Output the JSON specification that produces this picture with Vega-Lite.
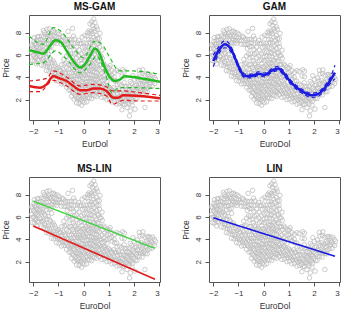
{
  "$schema": "https://vega.github.io/schema/vega-lite/v6.json",
  "padding": {"left": 0, "top": 1, "right": 0, "bottom": 0},
  "config": {
    "font": "Liberation Sans",
    "view": {"stroke": "#555", "strokeWidth": 1},
    "axis": {"grid": false, "domain": false, "tickColor": "#555", "tickSize": 4, "tickWidth": 1, "labelFontSize": 8, "labelColor": "#333", "labelPadding": 3, "titleFontSize": 8.5, "titleFontWeight": "normal", "titleColor": "#333", "titlePadding": 4},
    "axisY": {"labelAngle": -90},
    "title": {"fontSize": 10, "fontWeight": "bold", "color": "#111", "offset": 3}
  },
  "datasets": {
    "obs": [
      {"eur":-2.04,"price":5.5},{"eur":-2.01,"price":5.98},{"eur":-2.06,"price":6.24},{"eur":-2.02,"price":6.8},{"eur":-2.07,"price":6.91},
      {"eur":-1.96,"price":5.45},{"eur":-1.93,"price":5.83},{"eur":-1.98,"price":5.99},{"eur":-1.94,"price":6.45},{"eur":-1.99,"price":6.56},{"eur":-1.95,"price":6.99},{"eur":-1.97,"price":7.22},{"eur":-1.96,"price":7.55},
      {"eur":-1.87,"price":5.2},{"eur":-1.84,"price":5.58},{"eur":-1.89,"price":5.74},{"eur":-1.85,"price":6.2},{"eur":-1.90,"price":6.31},{"eur":-1.86,"price":6.74},{"eur":-1.88,"price":6.97},{"eur":-1.87,"price":7.3},{"eur":-1.84,"price":7.63},
      {"eur":-1.78,"price":5.55},{"eur":-1.75,"price":5.93},{"eur":-1.80,"price":6.09},{"eur":-1.76,"price":6.55},{"eur":-1.81,"price":6.66},{"eur":-1.77,"price":7.09},{"eur":-1.79,"price":7.32},{"eur":-1.78,"price":7.65},
      {"eur":-1.68,"price":5.1},{"eur":-1.65,"price":5.58},{"eur":-1.70,"price":5.84},{"eur":-1.66,"price":6.4},{"eur":-1.71,"price":6.61},{"eur":-1.67,"price":7.04},{"eur":-1.69,"price":7.37},{"eur":-1.68,"price":7.7},
      {"eur":-1.58,"price":5.05},{"eur":-1.55,"price":5.43},{"eur":-1.60,"price":5.69},{"eur":-1.56,"price":6.25},{"eur":-1.61,"price":6.46},{"eur":-1.57,"price":6.99},{"eur":-1.59,"price":7.22},{"eur":-1.58,"price":7.65},{"eur":-1.55,"price":8.03},{"eur":-1.60,"price":8.19},
      {"eur":-1.48,"price":4.6},{"eur":-1.45,"price":4.98},{"eur":-1.50,"price":5.24},{"eur":-1.46,"price":5.8},{"eur":-1.51,"price":6.11},{"eur":-1.47,"price":6.64},{"eur":-1.49,"price":6.97},{"eur":-1.48,"price":7.3},{"eur":-1.45,"price":7.68},{"eur":-1.50,"price":7.84},{"eur":-1.46,"price":8.3},
      {"eur":-1.38,"price":4.55},{"eur":-1.35,"price":4.93},{"eur":-1.40,"price":5.19},{"eur":-1.36,"price":5.75},{"eur":-1.41,"price":6.06},{"eur":-1.37,"price":6.69},{"eur":-1.39,"price":7.02},{"eur":-1.38,"price":7.35},{"eur":-1.35,"price":7.73},{"eur":-1.40,"price":7.89},{"eur":-1.36,"price":8.35},
      {"eur":-1.28,"price":4.1},{"eur":-1.25,"price":4.48},{"eur":-1.30,"price":4.74},{"eur":-1.26,"price":5.3},{"eur":-1.31,"price":5.61},{"eur":-1.27,"price":6.34},{"eur":-1.29,"price":6.77},{"eur":-1.28,"price":7.1},{"eur":-1.25,"price":7.48},{"eur":-1.30,"price":7.64},{"eur":-1.26,"price":8.1},
      {"eur":-1.18,"price":4.05},{"eur":-1.15,"price":4.43},{"eur":-1.20,"price":4.69},{"eur":-1.16,"price":5.25},{"eur":-1.21,"price":5.46},{"eur":-1.17,"price":7.09},{"eur":-1.19,"price":7.32},{"eur":-1.18,"price":7.65},{"eur":-1.15,"price":8.03},{"eur":-1.20,"price":8.14},
      {"eur":-1.08,"price":3.7},{"eur":-1.05,"price":4.08},{"eur":-1.10,"price":4.24},{"eur":-1.06,"price":4.8},{"eur":-1.11,"price":5.01},{"eur":-1.07,"price":7.04},{"eur":-1.09,"price":7.27},{"eur":-1.08,"price":7.6},{"eur":-1.05,"price":7.98},
      {"eur":-0.98,"price":3.65},{"eur":-0.95,"price":4.03},{"eur":-1.00,"price":4.19},{"eur":-0.96,"price":4.65},{"eur":-1.01,"price":4.86},{"eur":-0.97,"price":7.29},{"eur":-0.99,"price":7.52},{"eur":-0.98,"price":7.85},
      {"eur":-0.88,"price":3.4},{"eur":-0.85,"price":3.78},{"eur":-0.90,"price":3.94},{"eur":-0.86,"price":4.4},{"eur":-0.91,"price":4.61},{"eur":-0.87,"price":5.14},{"eur":-0.89,"price":6.97},{"eur":-0.88,"price":7.3},{"eur":-0.85,"price":7.68},
      {"eur":-0.78,"price":3.45},{"eur":-0.75,"price":3.83},{"eur":-0.80,"price":3.99},{"eur":-0.76,"price":4.45},{"eur":-0.81,"price":4.66},{"eur":-0.77,"price":5.19},{"eur":-0.79,"price":5.62},{"eur":-0.78,"price":6.95},{"eur":-0.75,"price":7.43},{"eur":-0.80,"price":7.59},
      {"eur":-0.68,"price":3.1},{"eur":-0.65,"price":3.48},{"eur":-0.70,"price":3.64},{"eur":-0.66,"price":4.1},{"eur":-0.71,"price":4.31},{"eur":-0.67,"price":4.84},{"eur":-0.69,"price":5.27},{"eur":-0.68,"price":5.9},{"eur":-0.65,"price":6.58},{"eur":-0.70,"price":6.94},{"eur":-0.66,"price":7.4},{"eur":-0.62,"price":8.11},
      {"eur":-0.58,"price":2.85},{"eur":-0.55,"price":3.23},{"eur":-0.60,"price":3.39},{"eur":-0.56,"price":3.85},{"eur":-0.61,"price":3.96},{"eur":-0.57,"price":4.39},{"eur":-0.59,"price":4.72},{"eur":-0.58,"price":5.15},{"eur":-0.55,"price":5.73},{"eur":-0.60,"price":6.09},{"eur":-0.56,"price":6.75},{"eur":-0.61,"price":6.96},{"eur":-0.57,"price":7.39},
      {"eur":-0.48,"price":2.3},{"eur":-0.45,"price":2.68},{"eur":-0.50,"price":2.84},{"eur":-0.46,"price":3.3},{"eur":-0.51,"price":3.41},{"eur":-0.47,"price":3.84},{"eur":-0.49,"price":4.07},{"eur":-0.48,"price":4.4},{"eur":-0.45,"price":4.88},{"eur":-0.50,"price":5.14},{"eur":-0.46,"price":5.8},{"eur":-0.51,"price":6.11},{"eur":-0.47,"price":6.74},{"eur":-0.49,"price":7.07},{"eur":-0.48,"price":7.4},{"eur":-0.44,"price":8.38},
      {"eur":-0.38,"price":2.05},{"eur":-0.35,"price":2.43},{"eur":-0.40,"price":2.59},{"eur":-0.36,"price":3.05},{"eur":-0.41,"price":3.16},{"eur":-0.37,"price":3.59},{"eur":-0.39,"price":3.82},{"eur":-0.38,"price":4.15},{"eur":-0.35,"price":4.53},{"eur":-0.40,"price":4.69},{"eur":-0.36,"price":5.25},{"eur":-0.41,"price":5.46},{"eur":-0.37,"price":6.09},{"eur":-0.39,"price":6.52},{"eur":-0.38,"price":7.05},{"eur":-0.35,"price":7.43},{"eur":-0.40,"price":7.69},
      {"eur":-0.28,"price":1.7},{"eur":-0.25,"price":2.08},{"eur":-0.30,"price":2.24},{"eur":-0.26,"price":2.7},{"eur":-0.31,"price":2.81},{"eur":-0.27,"price":3.24},{"eur":-0.29,"price":3.47},{"eur":-0.28,"price":3.8},{"eur":-0.25,"price":4.18},{"eur":-0.30,"price":4.34},{"eur":-0.26,"price":4.9},{"eur":-0.31,"price":5.11},{"eur":-0.27,"price":5.74},{"eur":-0.29,"price":6.17},{"eur":-0.28,"price":6.7},{"eur":-0.25,"price":7.08},
      {"eur":-0.18,"price":1.65},{"eur":-0.15,"price":2.03},{"eur":-0.20,"price":2.19},{"eur":-0.16,"price":2.65},{"eur":-0.21,"price":2.76},{"eur":-0.17,"price":3.19},{"eur":-0.19,"price":3.42},{"eur":-0.18,"price":3.75},{"eur":-0.15,"price":4.13},{"eur":-0.20,"price":4.29},{"eur":-0.16,"price":4.75},{"eur":-0.21,"price":4.96},{"eur":-0.17,"price":5.49},{"eur":-0.19,"price":5.92},{"eur":-0.18,"price":6.45},{"eur":-0.15,"price":7.03},{"eur":-0.20,"price":7.29},
      {"eur":-0.08,"price":1.5},{"eur":-0.05,"price":1.88},{"eur":-0.10,"price":2.04},{"eur":-0.06,"price":2.5},{"eur":-0.11,"price":2.61},{"eur":-0.07,"price":3.04},{"eur":-0.09,"price":3.27},{"eur":-0.08,"price":3.6},{"eur":-0.05,"price":3.98},{"eur":-0.10,"price":4.14},{"eur":-0.06,"price":4.6},{"eur":-0.11,"price":4.71},{"eur":-0.07,"price":5.24},{"eur":-0.09,"price":5.57},{"eur":-0.08,"price":6.1},{"eur":-0.05,"price":6.68},{"eur":-0.10,"price":7.04},{"eur":-0.06,"price":7.6},
      {"eur":0.02,"price":1.75},{"eur":0.05,"price":2.13},{"eur":0.00,"price":2.29},{"eur":0.04,"price":2.75},{"eur":-0.01,"price":2.86},{"eur":0.03,"price":3.29},{"eur":0.01,"price":3.52},{"eur":0.02,"price":3.85},{"eur":0.05,"price":4.23},{"eur":0.00,"price":4.39},{"eur":0.04,"price":4.85},{"eur":-0.01,"price":4.96},{"eur":0.03,"price":5.49},{"eur":0.01,"price":5.82},{"eur":0.02,"price":6.25},{"eur":0.05,"price":6.73},{"eur":0.00,"price":7.09},{"eur":0.04,"price":7.75},
      {"eur":0.12,"price":1.8},{"eur":0.15,"price":2.18},{"eur":0.10,"price":2.34},{"eur":0.14,"price":2.8},{"eur":0.09,"price":2.91},{"eur":0.13,"price":3.34},{"eur":0.11,"price":3.57},{"eur":0.12,"price":3.9},{"eur":0.15,"price":4.28},{"eur":0.10,"price":4.44},{"eur":0.14,"price":4.9},{"eur":0.09,"price":5.01},{"eur":0.13,"price":5.54},{"eur":0.11,"price":5.87},{"eur":0.12,"price":6.3},{"eur":0.15,"price":6.78},{"eur":0.10,"price":7.04},{"eur":0.14,"price":7.7},{"eur":0.16,"price":8.01},
      {"eur":0.22,"price":2.15},{"eur":0.25,"price":2.53},{"eur":0.20,"price":2.69},{"eur":0.24,"price":3.15},{"eur":0.19,"price":3.26},{"eur":0.23,"price":3.69},{"eur":0.21,"price":3.92},{"eur":0.22,"price":4.25},{"eur":0.25,"price":4.63},{"eur":0.20,"price":4.79},{"eur":0.24,"price":5.25},{"eur":0.19,"price":5.36},{"eur":0.23,"price":5.89},{"eur":0.21,"price":6.22},{"eur":0.22,"price":6.65},{"eur":0.25,"price":7.13},{"eur":0.20,"price":7.39},{"eur":0.24,"price":7.95},{"eur":0.21,"price":8.16},{"eur":0.25,"price":8.79},
      {"eur":0.32,"price":2.1},{"eur":0.35,"price":2.48},{"eur":0.30,"price":2.64},{"eur":0.34,"price":3.1},{"eur":0.29,"price":3.21},{"eur":0.33,"price":3.64},{"eur":0.31,"price":3.87},{"eur":0.32,"price":4.2},{"eur":0.35,"price":4.58},{"eur":0.30,"price":4.74},{"eur":0.34,"price":5.2},{"eur":0.29,"price":5.31},{"eur":0.33,"price":5.84},{"eur":0.31,"price":6.17},{"eur":0.32,"price":6.6},{"eur":0.35,"price":7.08},{"eur":0.30,"price":7.34},{"eur":0.34,"price":7.9},{"eur":0.31,"price":8.11},{"eur":0.35,"price":8.64},{"eur":0.32,"price":8.97},
      {"eur":0.42,"price":2.35},{"eur":0.45,"price":2.73},{"eur":0.40,"price":2.89},{"eur":0.44,"price":3.35},{"eur":0.39,"price":3.46},{"eur":0.43,"price":3.89},{"eur":0.41,"price":4.12},{"eur":0.42,"price":4.45},{"eur":0.45,"price":4.83},{"eur":0.40,"price":4.99},{"eur":0.44,"price":5.45},{"eur":0.39,"price":5.56},{"eur":0.43,"price":6.09},{"eur":0.41,"price":6.42},{"eur":0.42,"price":6.85},{"eur":0.45,"price":7.33},{"eur":0.40,"price":7.59},{"eur":0.44,"price":8.15},{"eur":0.41,"price":8.36},{"eur":0.45,"price":8.89},{"eur":0.40,"price":9.22},
      {"eur":0.52,"price":2.3},{"eur":0.55,"price":2.68},{"eur":0.50,"price":2.84},{"eur":0.54,"price":3.3},{"eur":0.49,"price":3.41},{"eur":0.53,"price":3.84},{"eur":0.51,"price":4.07},{"eur":0.52,"price":4.4},{"eur":0.55,"price":4.78},{"eur":0.50,"price":4.94},{"eur":0.54,"price":5.5},{"eur":0.49,"price":5.71},{"eur":0.53,"price":6.24},{"eur":0.51,"price":6.57},{"eur":0.52,"price":7.0},{"eur":0.55,"price":7.48},{"eur":0.50,"price":7.74},{"eur":0.54,"price":8.3},{"eur":0.51,"price":8.51},
      {"eur":0.62,"price":2.45},{"eur":0.65,"price":2.83},{"eur":0.60,"price":2.99},{"eur":0.64,"price":3.45},{"eur":0.59,"price":3.56},{"eur":0.63,"price":3.99},{"eur":0.61,"price":4.22},{"eur":0.62,"price":4.65},{"eur":0.65,"price":5.13},{"eur":0.60,"price":5.39},{"eur":0.64,"price":5.95},{"eur":0.59,"price":6.16},{"eur":0.63,"price":6.69},{"eur":0.61,"price":7.02},{"eur":0.62,"price":7.45},{"eur":0.65,"price":7.93},
      {"eur":0.72,"price":2.2},{"eur":0.75,"price":2.58},{"eur":0.70,"price":2.74},{"eur":0.74,"price":3.2},{"eur":0.69,"price":3.31},{"eur":0.73,"price":3.74},{"eur":0.71,"price":3.97},{"eur":0.72,"price":4.4},{"eur":0.75,"price":4.88},{"eur":0.70,"price":5.14},{"eur":0.74,"price":5.7},{"eur":0.69,"price":5.91},{"eur":0.73,"price":6.44},
      {"eur":0.82,"price":2.25},{"eur":0.85,"price":2.63},{"eur":0.80,"price":2.79},{"eur":0.84,"price":3.25},{"eur":0.79,"price":3.36},{"eur":0.83,"price":3.79},{"eur":0.81,"price":4.12},{"eur":0.82,"price":4.55},{"eur":0.85,"price":5.03},{"eur":0.80,"price":5.19},
      {"eur":0.92,"price":2.0},{"eur":0.95,"price":2.38},{"eur":0.90,"price":2.54},{"eur":0.94,"price":3.0},{"eur":0.89,"price":3.11},{"eur":0.93,"price":3.64},{"eur":0.91,"price":3.97},{"eur":0.92,"price":4.4},{"eur":0.95,"price":4.88},
      {"eur":1.02,"price":2.05},{"eur":1.05,"price":2.43},{"eur":1.00,"price":2.59},{"eur":1.04,"price":3.05},{"eur":0.99,"price":3.16},{"eur":1.03,"price":4.09},{"eur":1.01,"price":4.42},{"eur":1.02,"price":4.85},{"eur":1.05,"price":5.05},
      {"eur":1.12,"price":1.8},{"eur":1.15,"price":2.18},{"eur":1.10,"price":2.34},{"eur":1.14,"price":2.8},{"eur":1.09,"price":2.91},{"eur":1.13,"price":3.84},{"eur":1.11,"price":4.17},{"eur":1.12,"price":4.6},
      {"eur":1.22,"price":1.85},{"eur":1.25,"price":2.23},{"eur":1.20,"price":2.39},{"eur":1.24,"price":2.85},{"eur":1.19,"price":3.06},{"eur":1.23,"price":3.69},{"eur":1.21,"price":4.02},{"eur":1.22,"price":4.45},
      {"eur":1.32,"price":1.6},{"eur":1.35,"price":1.98},{"eur":1.30,"price":2.14},{"eur":1.34,"price":2.6},{"eur":1.29,"price":2.81},{"eur":1.33,"price":3.34},{"eur":1.31,"price":3.67},{"eur":1.32,"price":4.6},
      {"eur":1.42,"price":1.65},{"eur":1.45,"price":2.03},{"eur":1.40,"price":2.19},{"eur":1.44,"price":2.65},{"eur":1.39,"price":2.86},{"eur":1.43,"price":3.39},{"eur":1.41,"price":4.52},
      {"eur":1.52,"price":1.1},{"eur":1.55,"price":1.58},{"eur":1.50,"price":1.74},{"eur":1.54,"price":2.2},{"eur":1.49,"price":2.31},{"eur":1.53,"price":2.84},{"eur":1.51,"price":3.27},{"eur":1.52,"price":4.1},{"eur":1.55,"price":4.68},
      {"eur":1.62,"price":1.55},{"eur":1.65,"price":1.93},{"eur":1.60,"price":2.09},{"eur":1.64,"price":2.55},{"eur":1.59,"price":2.66},{"eur":1.63,"price":3.19},{"eur":1.61,"price":3.52},{"eur":1.62,"price":4.05},{"eur":1.62,"price":4.55},
      {"eur":1.72,"price":1.3},{"eur":1.75,"price":1.78},{"eur":1.70,"price":1.94},{"eur":1.74,"price":2.4},{"eur":1.69,"price":2.51},{"eur":1.73,"price":2.94},{"eur":1.71,"price":3.17},
      {"eur":1.82,"price":0.55},{"eur":1.85,"price":1.0},{"eur":1.80,"price":1.59},{"eur":1.84,"price":2.05},{"eur":1.79,"price":2.16},{"eur":1.83,"price":2.59},{"eur":1.81,"price":2.82},{"eur":1.82,"price":3.15},{"eur":1.85,"price":3.63},
      {"eur":1.92,"price":1.5},{"eur":1.95,"price":1.88},{"eur":1.90,"price":2.04},{"eur":1.94,"price":2.5},{"eur":1.89,"price":2.61},{"eur":1.93,"price":3.04},{"eur":1.91,"price":3.47},{"eur":1.95,"price":4.15},
      {"eur":2.04,"price":1.15},{"eur":2.05,"price":2.13},{"eur":2.00,"price":2.29},{"eur":2.04,"price":2.75},{"eur":1.99,"price":2.86},{"eur":2.03,"price":3.29},{"eur":2.01,"price":3.82},
      {"eur":2.12,"price":2.1},{"eur":2.15,"price":2.48},{"eur":2.10,"price":2.64},{"eur":2.14,"price":3.1},{"eur":2.09,"price":3.31},{"eur":2.13,"price":3.94},
      {"eur":2.22,"price":2.45},{"eur":2.25,"price":2.83},{"eur":2.20,"price":2.99},{"eur":2.24,"price":3.45},{"eur":2.19,"price":3.66},{"eur":2.23,"price":4.29},{"eur":2.21,"price":4.62},
      {"eur":2.32,"price":2.4},{"eur":2.35,"price":2.78},{"eur":2.30,"price":2.94},{"eur":2.34,"price":3.4},{"eur":2.29,"price":3.71},{"eur":2.33,"price":4.34},{"eur":2.35,"price":4.67},
      {"eur":2.43,"price":1.3},{"eur":2.45,"price":2.73},{"eur":2.40,"price":2.89},{"eur":2.44,"price":3.35},{"eur":2.39,"price":3.56},{"eur":2.43,"price":4.19},
      {"eur":2.52,"price":2.7},{"eur":2.55,"price":3.08},{"eur":2.50,"price":3.24},{"eur":2.54,"price":3.7},{"eur":2.49,"price":3.81},{"eur":2.53,"price":4.24},
      {"eur":2.62,"price":3.15},{"eur":2.65,"price":3.53},{"eur":2.60,"price":3.69},{"eur":2.64,"price":4.15},{"eur":2.59,"price":4.26},
      {"eur":2.72,"price":3.2},{"eur":2.75,"price":3.58},{"eur":2.70,"price":3.74},{"eur":2.74,"price":4.2},
      {"eur":2.82,"price":3.45},{"eur":2.85,"price":3.83},{"eur":2.80,"price":3.99}
    ],
    "msgam": [
      {"regime":"high","band":"fit","eur":-2.17,"price":6.42},{"regime":"high","band":"fit","eur":-1.87,"price":6.27},{"regime":"high","band":"fit","eur":-1.6,"price":6.12},{"regime":"high","band":"fit","eur":-1.34,"price":6.8},{"regime":"high","band":"fit","eur":-1.13,"price":7.31},{"regime":"high","band":"fit","eur":-0.93,"price":7.19},{"regime":"high","band":"fit","eur":-0.67,"price":6.36},{"regime":"high","band":"fit","eur":-0.41,"price":5.46},{"regime":"high","band":"fit","eur":-0.14,"price":4.87},{"regime":"high","band":"fit","eur":0.05,"price":5.16},{"regime":"high","band":"fit","eur":0.25,"price":5.91},{"regime":"high","band":"fit","eur":0.45,"price":6.57},{"regime":"high","band":"fit","eur":0.64,"price":6.06},{"regime":"high","band":"fit","eur":0.84,"price":4.87},{"regime":"high","band":"fit","eur":1.04,"price":4.03},{"regime":"high","band":"fit","eur":1.24,"price":3.67},{"regime":"high","band":"fit","eur":1.43,"price":3.79},{"regime":"high","band":"fit","eur":1.63,"price":4.09},{"regime":"high","band":"fit","eur":1.96,"price":4.03},{"regime":"high","band":"fit","eur":2.49,"price":3.82},{"regime":"high","band":"fit","eur":3.03,"price":3.61},
      {"regime":"high","band":"upper","eur":-2.17,"price":7.7},{"regime":"high","band":"upper","eur":-1.6,"price":6.95},{"regime":"high","band":"upper","eur":-1.21,"price":8.45},{"regime":"high","band":"upper","eur":-0.84,"price":8.0},{"regime":"high","band":"upper","eur":-0.41,"price":6.66},{"regime":"high","band":"upper","eur":-0.01,"price":5.76},{"regime":"high","band":"upper","eur":0.45,"price":7.25},{"regime":"high","band":"upper","eur":0.78,"price":6.8},{"regime":"high","band":"upper","eur":1.04,"price":5.76},{"regime":"high","band":"upper","eur":1.43,"price":4.57},{"regime":"high","band":"upper","eur":1.96,"price":4.57},{"regime":"high","band":"upper","eur":3.03,"price":4.27},
      {"regime":"high","band":"lower","eur":-2.17,"price":5.16},{"regime":"high","band":"lower","eur":-1.6,"price":5.3},{"regime":"high","band":"lower","eur":-1.13,"price":6.36},{"regime":"high","band":"lower","eur":-0.67,"price":5.6},{"regime":"high","band":"lower","eur":-0.14,"price":4.4},{"regime":"high","band":"lower","eur":0.25,"price":5.16},{"regime":"high","band":"lower","eur":0.51,"price":5.9},{"regime":"high","band":"lower","eur":0.91,"price":3.97},{"regime":"high","band":"lower","eur":1.11,"price":2.63},{"regime":"high","band":"lower","eur":1.43,"price":3.07},{"regime":"high","band":"lower","eur":1.96,"price":3.07},{"regime":"high","band":"lower","eur":3.03,"price":3.0},
      {"regime":"low","band":"fit","eur":-2.17,"price":3.22},{"regime":"low","band":"fit","eur":-1.74,"price":3.07},{"regime":"low","band":"fit","eur":-1.47,"price":3.37},{"regime":"low","band":"fit","eur":-1.21,"price":4.09},{"regime":"low","band":"fit","eur":-0.95,"price":3.91},{"regime":"low","band":"fit","eur":-0.68,"price":3.67},{"regime":"low","band":"fit","eur":-0.41,"price":3.22},{"regime":"low","band":"fit","eur":-0.14,"price":2.84},{"regime":"low","band":"fit","eur":0.12,"price":2.84},{"regime":"low","band":"fit","eur":0.38,"price":3.01},{"regime":"low","band":"fit","eur":0.64,"price":3.01},{"regime":"low","band":"fit","eur":0.91,"price":2.78},{"regime":"low","band":"fit","eur":1.17,"price":2.18},{"regime":"low","band":"fit","eur":1.37,"price":2.18},{"regime":"low","band":"fit","eur":1.57,"price":2.39},{"regime":"low","band":"fit","eur":2.22,"price":2.33},{"regime":"low","band":"fit","eur":3.03,"price":2.12},
      {"regime":"low","band":"upper","eur":-2.17,"price":3.67},{"regime":"low","band":"upper","eur":-1.47,"price":3.9},{"regime":"low","band":"upper","eur":-1.21,"price":4.57},{"regime":"low","band":"upper","eur":-0.68,"price":4.03},{"regime":"low","band":"upper","eur":-0.14,"price":3.22},{"regime":"low","band":"upper","eur":0.38,"price":3.37},{"regime":"low","band":"upper","eur":0.91,"price":3.13},{"regime":"low","band":"upper","eur":1.17,"price":2.78},{"regime":"low","band":"upper","eur":1.57,"price":2.78},{"regime":"low","band":"upper","eur":2.22,"price":2.63},{"regime":"low","band":"upper","eur":3.03,"price":2.39},
      {"regime":"low","band":"lower","eur":-2.17,"price":2.72},{"regime":"low","band":"lower","eur":-1.74,"price":2.72},{"regime":"low","band":"lower","eur":-1.21,"price":3.73},{"regime":"low","band":"lower","eur":-0.68,"price":3.22},{"regime":"low","band":"lower","eur":-0.14,"price":2.48},{"regime":"low","band":"lower","eur":0.38,"price":2.63},{"regime":"low","band":"lower","eur":0.91,"price":2.33},{"regime":"low","band":"lower","eur":1.14,"price":1.58},{"regime":"low","band":"lower","eur":1.57,"price":1.94},{"regime":"low","band":"lower","eur":2.22,"price":1.88},{"regime":"low","band":"lower","eur":3.03,"price":1.88}
    ],
    "gam": [
      {"band":"fit","eur":-2.0,"price":5.46},{"band":"fit","eur":-1.8,"price":6.36},{"band":"fit","eur":-1.54,"price":6.96},{"band":"fit","eur":-1.34,"price":6.66},{"band":"fit","eur":-1.14,"price":5.76},{"band":"fit","eur":-0.95,"price":4.72},{"band":"fit","eur":-0.75,"price":4.12},{"band":"fit","eur":-0.49,"price":4.12},{"band":"fit","eur":-0.2,"price":4.33},{"band":"fit","eur":0.04,"price":4.21},{"band":"fit","eur":0.3,"price":4.57},{"band":"fit","eur":0.57,"price":4.8},{"band":"fit","eur":0.83,"price":4.27},{"band":"fit","eur":1.09,"price":3.52},{"band":"fit","eur":1.36,"price":2.99},{"band":"fit","eur":1.62,"price":2.63},{"band":"fit","eur":1.88,"price":2.39},{"band":"fit","eur":2.14,"price":2.48},{"band":"fit","eur":2.41,"price":3.0},{"band":"fit","eur":2.67,"price":3.82},{"band":"fit","eur":2.83,"price":4.42},
      {"band":"upper","eur":-2.0,"price":5.98},{"band":"upper","eur":-1.8,"price":6.68},{"band":"upper","eur":-1.54,"price":7.28},{"band":"upper","eur":-1.34,"price":6.92},{"band":"upper","eur":-1.14,"price":5.96},{"band":"upper","eur":-0.95,"price":4.9},{"band":"upper","eur":-0.75,"price":4.3},{"band":"upper","eur":-0.49,"price":4.28},{"band":"upper","eur":-0.2,"price":4.5},{"band":"upper","eur":0.04,"price":4.38},{"band":"upper","eur":0.3,"price":4.74},{"band":"upper","eur":0.57,"price":4.99},{"band":"upper","eur":0.83,"price":4.46},{"band":"upper","eur":1.09,"price":3.7},{"band":"upper","eur":1.36,"price":3.17},{"band":"upper","eur":1.62,"price":2.81},{"band":"upper","eur":1.88,"price":2.58},{"band":"upper","eur":2.14,"price":2.68},{"band":"upper","eur":2.41,"price":3.22},{"band":"upper","eur":2.67,"price":4.12},{"band":"upper","eur":2.83,"price":5.08},
      {"band":"lower","eur":-2.0,"price":4.95},{"band":"lower","eur":-1.8,"price":6.04},{"band":"lower","eur":-1.54,"price":6.65},{"band":"lower","eur":-1.34,"price":6.4},{"band":"lower","eur":-1.14,"price":5.56},{"band":"lower","eur":-0.95,"price":4.54},{"band":"lower","eur":-0.75,"price":3.94},{"band":"lower","eur":-0.49,"price":3.96},{"band":"lower","eur":-0.2,"price":4.16},{"band":"lower","eur":0.04,"price":4.04},{"band":"lower","eur":0.3,"price":4.4},{"band":"lower","eur":0.57,"price":4.61},{"band":"lower","eur":0.83,"price":4.08},{"band":"lower","eur":1.09,"price":3.34},{"band":"lower","eur":1.36,"price":2.81},{"band":"lower","eur":1.62,"price":2.45},{"band":"lower","eur":1.88,"price":2.2},{"band":"lower","eur":2.14,"price":2.28},{"band":"lower","eur":2.41,"price":2.78},{"band":"lower","eur":2.67,"price":3.52},{"band":"lower","eur":2.83,"price":3.88}
    ],
    "mslin": [
      {"regime":"high","eur":-2.0,"price":7.42},{"regime":"high","eur":2.83,"price":3.19},
      {"regime":"low","eur":-2.0,"price":5.2},{"regime":"low","eur":2.83,"price":0.42}
    ],
    "lin": [
      {"eur":-2.0,"price":5.94},{"eur":2.83,"price":2.49}
    ]
  },
  "bounds": "flush",
  "columns": 2,
  "spacing": {"row": 57, "column": 49},
  "concat": [
    {
      "title": "MS-GAM",
      "width": 131, "height": 105,
      "encoding": {
        "x": {"field": "eur", "type": "quantitative", "scale": {"domain": [-2.17, 3.03], "nice": false, "zero": false}, "axis": {"values": [-2, -1, 0, 1, 2, 3], "title": "EurDol"}},
        "y": {"field": "price", "type": "quantitative", "scale": {"domain": [0.18, 9.58], "nice": false, "zero": false}, "axis": {"values": [2, 4, 6, 8], "title": "Price"}}
      },
      "layer": [
        {"data": {"name": "obs"}, "mark": {"type": "point", "shape": "circle", "filled": false, "size": 20, "color": "#bebebe", "strokeWidth": 0.8, "opacity": 1}},
        {"data": {"name": "msgam"}, "transform": [{"filter": "datum.regime === 'high' && datum.band !== 'fit'"}], "mark": {"type": "line", "color": "#22bb22", "strokeWidth": 1.2, "strokeDash": [4, 3], "interpolate": "monotone", "clip": true}, "encoding": {"detail": {"field": "band"}}},
        {"data": {"name": "msgam"}, "transform": [{"filter": "datum.regime === 'high' && datum.band === 'fit'"}], "mark": {"type": "line", "color": "#22bb22", "strokeWidth": 2.5, "interpolate": "monotone", "clip": true}},
        {"data": {"name": "msgam"}, "transform": [{"filter": "datum.regime === 'low' && datum.band !== 'fit'"}], "mark": {"type": "line", "color": "#e31a1a", "strokeWidth": 1.2, "strokeDash": [4, 3], "interpolate": "monotone", "clip": true}, "encoding": {"detail": {"field": "band"}}},
        {"data": {"name": "msgam"}, "transform": [{"filter": "datum.regime === 'low' && datum.band === 'fit'"}], "mark": {"type": "line", "color": "#e31a1a", "strokeWidth": 2.5, "interpolate": "monotone", "clip": true}}
      ]
    },
    {
      "title": "GAM",
      "width": 131, "height": 105,
      "encoding": {
        "x": {"field": "eur", "type": "quantitative", "scale": {"domain": [-2.17, 3.03], "nice": false, "zero": false}, "axis": {"values": [-2, -1, 0, 1, 2, 3], "title": "EuroDol"}},
        "y": {"field": "price", "type": "quantitative", "scale": {"domain": [0.18, 9.58], "nice": false, "zero": false}, "axis": {"values": [2, 4, 6, 8], "title": "Price"}}
      },
      "layer": [
        {"data": {"name": "obs"}, "mark": {"type": "point", "shape": "circle", "filled": false, "size": 20, "color": "#bebebe", "strokeWidth": 0.8, "opacity": 1}},
        {"data": {"name": "gam"}, "transform": [{"filter": "datum.band !== 'fit'"}], "mark": {"type": "line", "color": "#1a1ae0", "strokeWidth": 1.2, "strokeDash": [4, 3], "interpolate": "monotone", "clip": true}, "encoding": {"detail": {"field": "band"}}},
        {"data": {"name": "gam"}, "transform": [{"filter": "datum.band === 'fit'"}], "mark": {"type": "line", "color": "#1a1ae0", "strokeWidth": 2.5, "interpolate": "monotone", "clip": true}}
      ]
    },
    {
      "title": "MS-LIN",
      "width": 131, "height": 105,
      "encoding": {
        "x": {"field": "eur", "type": "quantitative", "scale": {"domain": [-2.17, 3.03], "nice": false, "zero": false}, "axis": {"values": [-2, -1, 0, 1, 2, 3], "title": "EuroDol"}},
        "y": {"field": "price", "type": "quantitative", "scale": {"domain": [0.18, 9.58], "nice": false, "zero": false}, "axis": {"values": [2, 4, 6, 8], "title": "Price"}}
      },
      "layer": [
        {"data": {"name": "obs"}, "mark": {"type": "point", "shape": "circle", "filled": false, "size": 20, "color": "#bebebe", "strokeWidth": 0.8, "opacity": 1}},
        {"data": {"name": "mslin"}, "transform": [{"filter": "datum.regime === 'high'"}], "mark": {"type": "line", "color": "#3ed43e", "strokeWidth": 1.6, "clip": true}},
        {"data": {"name": "mslin"}, "transform": [{"filter": "datum.regime === 'low'"}], "mark": {"type": "line", "color": "#e31a1a", "strokeWidth": 1.6, "clip": true}}
      ]
    },
    {
      "title": "LIN",
      "width": 131, "height": 105,
      "encoding": {
        "x": {"field": "eur", "type": "quantitative", "scale": {"domain": [-2.17, 3.03], "nice": false, "zero": false}, "axis": {"values": [-2, -1, 0, 1, 2, 3], "title": "EuroDol"}},
        "y": {"field": "price", "type": "quantitative", "scale": {"domain": [0.18, 9.58], "nice": false, "zero": false}, "axis": {"values": [2, 4, 6, 8], "title": "Price"}}
      },
      "layer": [
        {"data": {"name": "obs"}, "mark": {"type": "point", "shape": "circle", "filled": false, "size": 20, "color": "#bebebe", "strokeWidth": 0.8, "opacity": 1}},
        {"data": {"name": "lin"}, "mark": {"type": "line", "color": "#1a1ae0", "strokeWidth": 1.6, "clip": true}}
      ]
    }
  ]
}
